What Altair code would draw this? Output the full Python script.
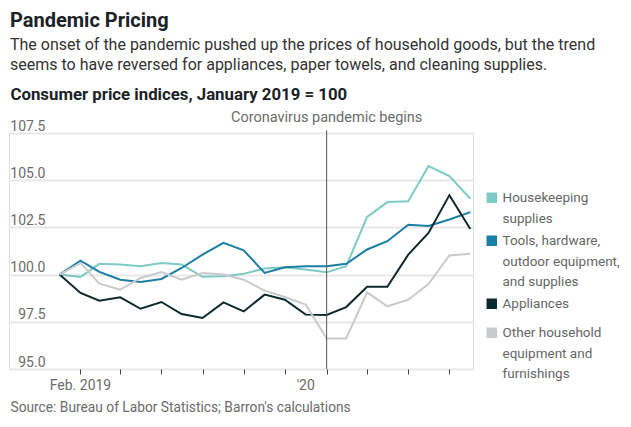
import altair as alt
import pandas as pd

months = ["2019-01", "2019-02", "2019-03", "2019-04", "2019-05", "2019-06", "2019-07",
          "2019-08", "2019-09", "2019-10", "2019-11", "2019-12", "2020-01", "2020-02",
          "2020-03", "2020-04", "2020-05", "2020-06", "2020-07", "2020-08", "2020-09"]

housekeeping = [100.0, 99.88, 100.57, 100.53, 100.44, 100.62, 100.53, 99.88, 99.91, 100.05,
                100.32, 100.39, 100.27, 100.12, 100.44, 103.06, 103.84, 103.89, 105.75, 105.22, 104.02]
tools = [100.0, 100.74, 100.14, 99.73, 99.61, 99.77, 100.35, 101.06, 101.68, 101.29,
         100.09, 100.39, 100.44, 100.44, 100.57, 101.33, 101.77, 102.64, 102.57, 102.92, 103.31]
appliances = [100.0, 99.03, 98.62, 98.80, 98.19, 98.55, 97.91, 97.70, 98.53, 98.05,
              98.94, 98.67, 97.88, 97.86, 98.28, 99.35, 99.35, 101.06, 102.21, 104.21, 102.42]
other = [100.0, 100.62, 99.52, 99.20, 99.82, 100.14, 99.73, 100.09, 100.0, 99.73,
         99.15, 98.81, 98.41, 96.62, 96.62, 99.06, 98.32, 98.67, 99.50, 101.01, 101.10]

series_names = ["Housekeeping supplies",
                "Tools, hardware, outdoor equipment, and supplies",
                "Appliances",
                "Other household equipment and furnishings"]
legend_lines = [["Housekeeping", "supplies"],
                ["Tools, hardware,", "outdoor equipment,", "and supplies"],
                ["Appliances"],
                ["Other household", "equipment and", "furnishings"]]
colors = ["#7dcbc4", "#1a7fa4", "#0c2a2e", "#c9cace"]

y_ticks = [95.0, 97.5, 100.0, 102.5, 105.0, 107.5]
x_label_months = ["2019-02", "2020-01"]
x_label_texts = ["Feb. 2019", "'20"]
pandemic_month = "2020-02"
pandemic_label = "Coronavirus pandemic begins"

title_text = "Pandemic Pricing"
subtitle_lines = ["The onset of the pandemic pushed up the prices of household goods, but the trend",
                  "seems to have reversed for appliances, paper towels, and cleaning supplies."]
y_title = "Consumer price indices, January 2019 = 100"
source_text = "Source: Bureau of Labor Statistics; Barron's calculations"

rows = []
for name, vals in zip(series_names, [housekeeping, tools, appliances, other]):
    for m, v in zip(months, vals):
        rows.append({"date": m + "-01T00:00:00", "series": name, "value": v})
df = pd.DataFrame(rows)

ann = pd.DataFrame({"date": [pandemic_month + "-01T00:00:00"], "label": [pandemic_label]})
xlab = pd.DataFrame({"date": [m + "-01T00:00:00" for m in x_label_months],
                     "label": x_label_texts})

FONT = "Roboto"
W, H = 464, 236
DY = 4.5  # vertical shift of guide labels (for legend label alignment)

tick_values = [alt.DateTime(year=int(m[:4]), month=int(m[5:]), date=1) for m in months[1:]]


def q(s):
    return "'" + s.replace("'", "\\'") + "'"


label_expr = ""
for name, lines in zip(series_names, legend_lines):
    arr = "[" + ", ".join(q(l) for l in lines) + "]"
    label_expr += f"datum.label == {q(name)} ? {arr} : "
label_expr += "datum.label"

x_scale = alt.Scale(domain=[alt.DateTime(year=2018, month=10, date=18),
                            alt.DateTime(year=2020, month=9, date=5)])

x_enc = alt.X("date:T", scale=x_scale,
              axis=alt.Axis(values=tick_values, labels=False,
                            grid=False, domain=False, tickSize=5, tickColor="#444", tickWidth=1,
                            title=source_text, titleFont=FONT, titleFontSize=13.75,
                            titleFontWeight="normal", titleColor="#6b6b6b",
                            titleAlign="left", titleBaseline="alphabetic",
                            titleX=1, titleY=42.4))

lines = alt.Chart(df).mark_line(strokeWidth=2).encode(
    x=x_enc,
    y=alt.Y("value:Q",
            scale=alt.Scale(domain=[95, 107.5], nice=False, zero=False),
            axis=alt.Axis(values=y_ticks, format=".1f", grid=True, gridColor="#e8e8e8",
                          gridWidth=2, domain=False, ticks=False, tickSize=0,
                          labelAlign="right", labelBaseline="alphabetic", labelPadding=-36,
                          labelOffset=-3 - DY, labelFont=FONT, labelFontSize=14,
                          labelColor="#6b6b6b",
                          title=y_title, titleAngle=0, titleAlign="left",
                          titleBaseline="alphabetic", titleX=1, titleY=-34,
                          titleFont=FONT, titleFontSize=16.8, titleFontWeight="bold",
                          titleColor="#1b2226")),
    color=alt.Color("series:N",
                    scale=alt.Scale(domain=series_names, range=colors),
                    legend=alt.Legend(title=None, orient="none", legendX=476, legendY=58,
                                      symbolType="square", symbolSize=20,
                                      symbolStrokeWidth=6, labelExpr=label_expr,
                                      labelFont=FONT, labelFontSize=13.5,
                                      labelColor="#666666", labelLimit=300,
                                      labelBaseline="alphabetic", labelOffset=4,
                                      rowPadding=0)),
)

x_labels_layer = alt.Chart(xlab).mark_text(font=FONT, fontSize=14, color="#6b6b6b",
                                           align="center", baseline="alphabetic").encode(
    x=alt.X("date:T", scale=x_scale), y=alt.value(H + 21.4), text="label:N")

rule = alt.Chart(ann).mark_rule(color="#555555", strokeWidth=1).encode(
    x="date:T", y=alt.value(-2.6), y2=alt.value(H))

text = alt.Chart(ann).mark_text(font=FONT, fontSize=14.5, color="#6b6b6b",
                                align="center", baseline="alphabetic").encode(
    x="date:T", y=alt.value(-10.6), text="label:N")

chart = alt.layer(lines, rule, text, x_labels_layer).properties(
    width=W, height=H,
    autosize=alt.AutoSizeParams(type="none"),
    padding={"left": 1, "top": 125, "right": 150, "bottom": 50},
    title=alt.TitleParams(text=title_text, subtitle=subtitle_lines, anchor="start",
                          frame="group", font=FONT, fontSize=20, fontWeight="bold",
                          color="#1b2226", subtitleFont=FONT, subtitleFontSize=16,
                          subtitleColor="#333333", subtitleLineHeight=20,
                          subtitlePadding=6, offset=13, dx=1)
).configure_view(stroke=None).configure(
    style={"guide-label": {"lineHeight": 20.5, "dy": DY}})

chart.save("out.html", embed_options={"renderer": "svg", "actions": False})
